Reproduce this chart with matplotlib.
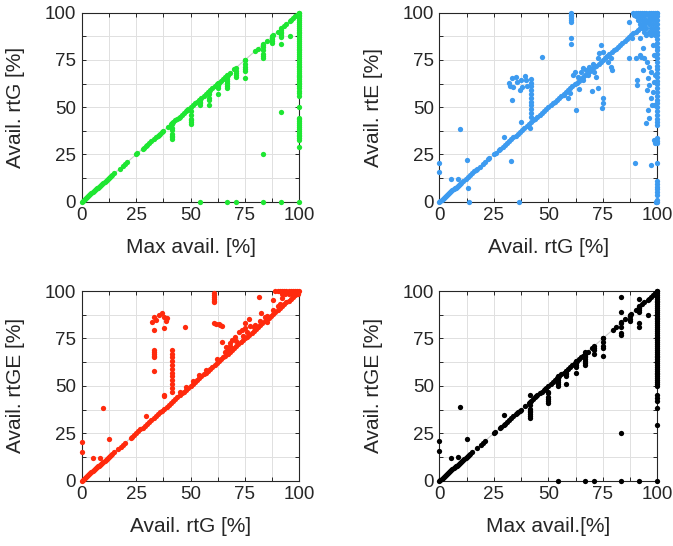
import numpy as np
import matplotlib.pyplot as plt

plt.rcParams['font.family'] = ['Liberation Sans', 'DejaVu Sans']

# ---------------- Max avail. vs rtG (green)
g_diag = [0, 0.5, 1, 1.5, 2, 2.5, 3, 3.5, 4, 4.5, 5, 5.5, 6, 6.5, 7, 7.5, 8, 8.5, 9,
          9.5, 10, 10.5, 11, 11.5, 12, 12.5, 13, 13.5, 14, 15, 17.5, 19, 20, 21, 25,
          25.5, 28, 28.5, 29.5, 30, 31, 32, 33, 34, 35, 35.5, 36, 37, 37.5, 39.5, 41,
          41.5, 42, 43, 44, 44.5, 45, 46, 47, 48, 48.5, 49, 50, 51, 52, 53, 54, 55, 56,
          57, 58, 59, 60, 61, 62, 62.5, 63, 64, 65, 66, 66.7, 67, 68, 70, 70.8, 75,
          79.5, 81, 83.3, 85, 87.5, 88, 90, 91.7, 93, 94, 95.5, 96, 97, 98, 99, 100]
g_col = [0, 29, 32.5, 33.5, 34.5, 35.5, 36.5, 37.5, 38.5, 39.5, 40.5, 41.5, 42.5, 43.5,
         44.5, 50, 56, 57.5, 58.5, 60, 61, 62, 63, 64, 65, 66, 66.5, 67, 68, 69, 70, 71,
         72, 73, 74, 75, 76, 77, 78, 79, 80, 81, 82, 83, 84, 85, 86, 87, 88, 89, 90, 91,
         92, 93, 94, 95, 96, 97, 98, 99, 100]
g_off_x = [41.7, 41.7, 41.7, 41.7, 41.7, 41.7, 41.7,
           50, 50, 50, 50, 50, 50,
           54.2, 54.2, 54.2, 54.2,
           58.3, 58.3, 58.3, 58.3, 58.3,
           62.5, 62.5, 62.5, 62.5, 62.5,
           66.7, 66.7, 66.7, 66.7, 66.7, 66.7, 66.7, 66.7,
           70.8, 70.8, 70.8, 70.8,
           75, 75, 75, 75, 75, 75,
           83.3, 83.3, 83.3, 83.3, 83.3, 83.3, 83.3,
           87.5, 87.5, 87.5, 87.5,
           91.7, 91.7, 91.7, 91.7, 91.7, 91.7, 91.7,
           95.8,
           54.2, 66.7, 70.8, 83.3, 91.7]
g_off_y = [41, 39, 38, 36, 35, 34, 33,
           48, 46, 44, 43, 42, 41,
           54, 53, 52, 51,
           58, 57, 55, 54, 51,
           63, 62, 61, 60, 57,
           67, 66, 65, 64, 63, 62, 61, 60,
           69, 68, 67, 66,
           75, 73, 71, 70, 69, 65.5,
           83, 82, 80, 78, 77, 76, 25,
           87, 86, 85, 84,
           91, 90, 89, 88, 87, 83.5, 47.5,
           87.5,
           0, 0, 0, 0, 0]

# ---------------- rtG vs rtE (blue)
b_diag = [0, 0.5, 1, 1.5, 2, 2.5, 3, 3.5, 4, 4.5, 5, 5.5, 6, 6.5, 7, 7.5, 8, 8.5, 9,
          9.5, 10, 11, 12, 13, 14, 15, 16, 17, 17.5, 18.5, 20, 21, 22.5, 23, 25, 26,
          27.5, 28, 29, 30, 31, 32, 33, 34, 35, 36, 37, 38, 39, 40, 41, 42, 43, 44, 45,
          46, 47, 48, 49, 50, 51, 52, 53, 54, 55, 56, 57, 58, 59, 60, 61, 62, 63, 64,
          65, 66, 67, 68, 69, 70, 71, 72, 73, 74, 75, 76, 77, 78, 79, 80, 81, 82, 83,
          84, 85, 86, 87, 88, 89, 90, 91, 92, 93, 94, 95, 96, 97, 98, 99, 100]
b_col = [0, 1, 3.5, 5, 6.5, 8, 9.5, 11, 20.3, 31, 32, 33.5, 40.5, 42, 44, 46, 48, 50,
         52, 54, 56, 58, 60, 62, 64, 66, 68, 70, 72, 74, 76, 78, 80, 82, 84, 86, 88, 90,
         92, 94, 96, 98, 100]
b_off_x = [0, 0, 5.2, 8.4, 9.7, 12.8, 13.2, 13.5, 33, 36.5, 29.6, 37.6, 41.4, 33.4,
           32, 33.1, 35.1, 35.7, 33.9, 36.9, 38.1, 39.5, 39.9, 40.2, 37.6, 32.3,
           42.2, 42.2, 42.2, 42.2, 42.2, 42.2, 42.2, 42.2, 42.2, 42.2, 42.2,
           47.2, 57.4, 58.9, 59.7, 62.7, 63.9, 61.5, 62.4, 63.5, 65, 66, 67.3, 68.8,
           70.3, 71.1, 70, 72.6, 74.9, 75.2, 74.6, 74.1, 73.4, 74.9, 76.4, 78.7, 78.7,
           79.1, 77.2, 72.6, 71.8, 68, 65.8,
           60.5, 60.5, 60.5, 60.5, 60.5, 60.5, 60.5, 60.5,
           87.2, 88.4, 86.9, 90.3, 90.6, 90.6, 89.8, 97.2, 92.1,
           90, 91, 92, 93, 94, 95, 96, 97, 98, 99, 90, 92, 94, 96, 98, 91, 93, 95, 97,
           99, 92, 94, 96, 98, 93, 95, 97, 99, 94, 96, 98, 95, 97, 99, 89, 89.5,
           92.5, 94, 95.1, 96.3, 93.3, 91.8, 95.6, 96.3, 95.1, 97.1, 95.6, 96.3, 94.8,
           98.6, 97.9, 97.1, 98.6, 97.9, 93.3, 98.9, 98.3, 97.6, 98.6, 99, 99.2, 99.4]
b_off_y = [20.6, 15.7, 12, 12, 38.4, 22, 7, 0, 21.7, 0, 34.4, 42, 38.8, 53.8,
           63, 65.3, 66.2, 63.5, 60.5, 59.1, 60.9, 66.5, 64.4, 61.2, 64.4, 61,
           65, 63, 61, 59, 57, 55, 53, 51, 49, 47, 45,
           76.4, 56.4, 54.7, 57.3, 48.5, 59.4, 67, 68.8, 66, 68.8, 70.5, 69.7, 71.4,
           72.8, 68.8, 58.7, 60, 54.7, 52, 49.4, 82.9, 78.5, 79.4, 76.7, 75.8, 71.4,
           69.7, 74, 75.8, 66.1, 67, 64.4,
           100, 99, 98, 97, 96, 95, 86.4, 83.2,
           95.2, 86.4, 75.8, 76.2, 64.4, 61.7, 20.3, 19.4, 86.4,
           100, 100, 100, 100, 100, 100, 100, 100, 100, 100, 98, 98, 98, 98, 98, 96, 96,
           96, 96, 96, 94, 94, 94, 94, 92, 92, 92, 92, 90, 90, 90, 88, 88, 88, 100, 99,
           76.7, 75.8, 73.7, 71.4, 69.7, 77.6, 65.3, 61.7, 59.1, 54.7, 48.5, 44.1, 41.4,
           51.1, 58.2, 68.8, 77.6, 82.9, 81.1, 67, 63.5, 51.1, 32.6, 30.9, 0, 0]

# ---------------- rtG vs rtGE (red)
r_diag = [0, 0.5, 1, 1.5, 2, 2.5, 3, 3.5, 4, 4.5, 5, 5.5, 6, 6.5, 7, 7.5, 8, 8.5, 9,
          9.5, 10, 10.5, 11, 11.5, 12, 12.5, 13, 13.5, 14, 15, 16.5, 18, 19, 20, 22.5,
          23, 24, 25, 26, 27, 28, 29, 30, 31, 32, 33, 34, 35, 36, 37, 38, 39, 40, 41,
          42, 43, 44, 45, 46, 47, 48, 49, 50, 51, 52, 53, 54, 55, 56, 57, 58, 59, 60,
          61, 62, 63, 64, 65, 66, 67, 68, 69, 70, 71, 72, 73, 74, 75, 76, 77, 78, 79,
          80, 81, 82, 83, 84, 85, 86, 87, 88, 89, 90, 91, 92, 93, 94, 95, 96, 97, 98,
          99, 100]
r_off_x = [0, 0, 5.4, 8.4, 9.7, 12.7, 29.6, 38, 37.9,
           33, 35.3, 36.8, 37.9, 39.1, 32.2, 34.2, 37.9, 33.3, 38.8, 47.5,
           33.3, 33.3, 33.3, 33.3, 33.3, 33.3,
           41.7, 41.7, 41.7, 41.7, 41.7, 41.7, 41.7, 41.7, 41.7, 41.7, 41.7, 41.7,
           60.9, 60.9, 60.9, 60.9, 60.9, 60.9, 60.9, 62.9, 64.4, 61.8, 63.5,
           64.4, 66.4, 67, 68.2, 69, 70.5, 72.1, 73.6, 75.2, 77, 77.5, 80.5, 84.4, 85.1,
           81.3, 87.7, 92, 75.2, 79.8, 82.4,
           45, 48, 51, 54, 57, 62, 66, 68, 71, 74, 76, 79, 82, 85, 88, 90, 91,
           89, 90, 91, 92, 93, 94, 95, 96, 97, 98, 99, 92, 93.5, 95, 96.5, 98, 99.5]
r_off_y = [20.2, 15.3, 11.8, 11.8, 38.5, 22, 34.3, 44.8, 45.2,
           86.5, 87.3, 88.2, 86.5, 85.6, 83.8, 84.7, 80.3, 79.4, 84.2, 80.9,
           69, 68, 67, 66, 65, 57.8,
           69, 67, 65, 63, 61, 59, 57, 55, 53, 51, 49, 47,
           99, 98, 97, 96, 95, 94, 83, 82.4, 81.7, 82.6, 82,
           73.3, 70.6, 68.9, 72.4, 74.2, 75.9, 78.5, 79.4, 80.3, 85.1, 81.7, 81.2, 86.5,
           83.8, 96.7, 95.3, 96.2, 83, 82, 88.2,
           46.5, 49.5, 52.5, 55.5, 58.5, 64, 68, 71, 73.5, 76.5, 78.5, 81, 84, 87,
           90, 92, 93,
           100, 100, 100, 100, 100, 100, 100, 100, 100, 100, 100, 98.5, 98.5, 98.5,
           98.5, 98.5, 98.5]

# ---------------- Max avail. vs rtGE (black)
k_diag = g_diag
k_col = [0, 29.5, 38.5, 42, 43.5, 45, 50, 51, 52, 53, 54, 55, 56, 57, 58, 59, 60, 61,
         62, 63, 64, 65, 66, 67, 68, 69, 70, 71, 72, 73, 74, 75, 76, 77, 78, 79, 80,
         81, 82, 83, 84, 85, 86, 87, 88, 89, 90, 91, 92, 93, 94, 95, 96, 97, 98, 99, 100]
k_off_x = [0, 0, 5.3, 8.4, 9.6, 12.9, 29.6, 41.7,
           41.7, 41.7, 41.7, 41.7, 41.7, 41.7, 41.7,
           50, 50, 50, 50, 50, 50,
           54.2, 54.2, 54.2, 54.2, 54.2, 54.2,
           58.3, 58.3, 58.3, 58.3, 58.3,
           62.5, 62.5, 62.5, 62.5, 62.5,
           66.7, 66.7, 66.7, 66.7, 66.7, 66.7, 66.7, 66.7,
           70.8, 70.8, 70.8,
           75, 75, 75, 75, 75,
           83.3, 83.3, 83.3, 83.3, 83.3, 83.3, 83.3,
           87.5, 87.5, 87.5,
           91.7, 91.7, 91.7, 91.7, 91.7, 91.7, 91.7,
           95.6,
           54.2, 66.7, 70.8, 83.3, 91.7]
k_off_y = [15.8, 20.7, 12, 12.4, 38.9, 22.1, 34.5, 45,
           40, 38, 37, 36, 35, 34, 33,
           47, 46, 44, 43, 42, 41,
           55, 54, 53, 52, 51, 50,
           58, 57, 56, 55, 51,
           63, 62, 61, 60, 57,
           68, 67, 66, 65, 64, 63, 62, 61,
           70, 69, 67,
           75, 73, 71, 70, 65.5,
           97, 89, 83.5, 81, 78, 77, 25,
           87, 85, 84,
           96, 92, 91, 90, 89, 83, 81,
           87.4,
           0, 0, 0, 0, 0]

panels = [
    (g_diag, g_col, g_off_x, g_off_y, '#1ee632', 'Max avail. [%]', 'Avail. rtG [%]'),
    (b_diag, b_col, b_off_x, b_off_y, '#3d9bf0', 'Avail. rtG [%]', 'Avail. rtE [%]'),
    (r_diag, [], r_off_x, r_off_y, '#ff2a0d', 'Avail. rtG [%]', 'Avail. rtGE [%]'),
    (k_diag, k_col, k_off_x, k_off_y, 'black', 'Max avail.[%]', 'Avail. rtGE [%]'),
]
boxes = [[0.1214, 0.6306, 0.3235, 0.3462], [0.6528, 0.6306, 0.3240, 0.3462],
         [0.1214, 0.1196, 0.3235, 0.3474], [0.6528, 0.1196, 0.3240, 0.3474]]

fig = plt.figure(figsize=(6.73, 5.46), dpi=100)
for (diag, col, ox, oy, c, xl, yl), box in zip(panels, boxes):
    ax = fig.add_axes(box)
    ax.plot([0, 100], [0, 100], color='#cccccc', lw=0.8, zorder=1)
    xs = list(diag) + [100] * len(col) + list(ox)
    ys = list(diag) + list(col) + list(oy)
    ax.plot(xs, ys, 'o', color=c, ms=3.8, mew=0, clip_on=False, zorder=3)
    ax.set_xlim(0, 100)
    ax.set_ylim(0, 100)
    ticks = [0, 25, 50, 75, 100]
    ax.set_xticks(ticks)
    ax.set_yticks(ticks)
    ax.set_xticks([12.5, 37.5, 62.5, 87.5], minor=True)
    ax.set_yticks([12.5, 37.5, 62.5, 87.5], minor=True)
    ax.grid(True, which='both', color='#e0e0e0', lw=0.7, zorder=0)
    ax.set_axisbelow(True)
    ax.tick_params(which='both', direction='in', top=True, right=True,
                   length=3, width=0.7, color='#262626')
    ax.tick_params(labelsize=13.5, labelcolor='#262626', pad=4)
    for s in ax.spines.values():
        s.set_color('#262626')
        s.set_linewidth(0.8)
    ax.set_xlabel(xl, fontsize=15, color='#262626', labelpad=10)
    ax.set_ylabel(yl, fontsize=15, color='#262626', labelpad=14)

fig.savefig('out.png', dpi=100)
